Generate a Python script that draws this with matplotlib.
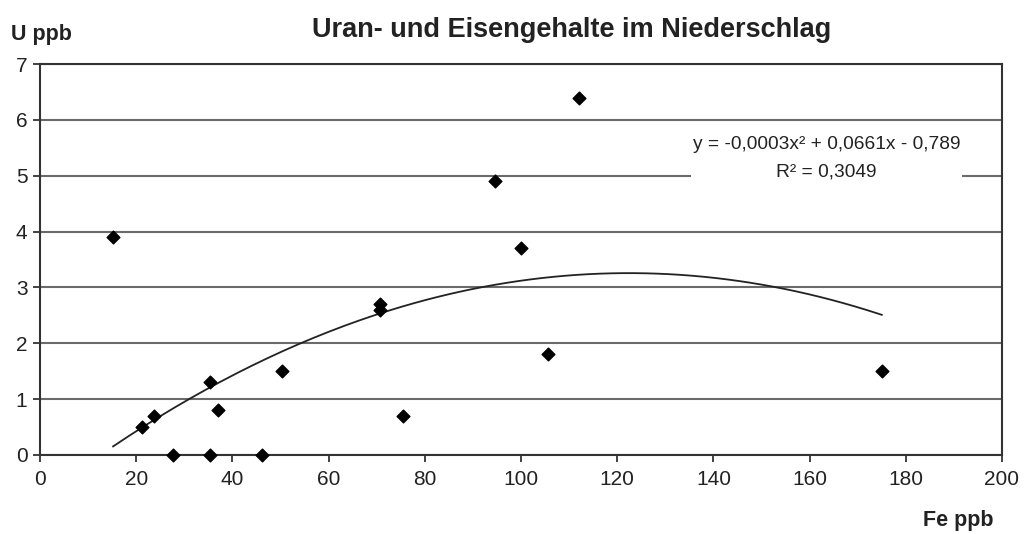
import numpy as np
import matplotlib
matplotlib.use("Agg")
import matplotlib.pyplot as plt

plt.rcParams['font.family'] = ['Liberation Sans', 'DejaVu Sans']

# Fe and U contents in precipitation (ppb)
fe_ppb = [15.2, 21.2, 23.7, 27.6, 35.3, 35.3, 37.0, 46.1, 50.3, 70.6, 70.6,
          75.4, 94.7, 99.9, 105.7, 112.0, 175.0]
u_ppb = [3.9, 0.5, 0.7, 0.0, 0.0, 1.3, 0.8, 0.0, 1.5, 2.7, 2.6,
         0.7, 4.9, 3.7, 1.8, 6.4, 1.5]

# polynomial trend (2nd order): a*x^2 + b*x + c
trend_coef = [-0.00027, 0.0661, -0.789]
r_squared = 0.3049

x_ticks = [0, 20, 40, 60, 80, 100, 120, 140, 160, 180, 200]
y_ticks = [0, 1, 2, 3, 4, 5, 6, 7]

def de(v, nd):
    return f"{v:.{nd}f}".replace(".", ",")

fig = plt.figure(figsize=(10.28, 5.34), dpi=100)
ax = fig.add_axes([0.0389, 0.148, 0.9358, 0.732])

ax.set_xlim(0, 200)
ax.set_ylim(0, 7)
ax.set_xticks(x_ticks)
ax.set_yticks(y_ticks)
ax.tick_params(axis='both', direction='out', length=5, width=1.2,
               labelsize=15, colors='#222222', pad=6)
ax.tick_params(axis='y', pad=4)
ax.yaxis.grid(True, color='#6a6a6a', linewidth=1.5)
ax.set_axisbelow(True)
for s in ax.spines.values():
    s.set_color('#333333')
    s.set_linewidth(1.5)

ax.scatter(fe_ppb, u_ppb, marker='D', s=42, color='black', zorder=3,
           clip_on=False)

xs = np.linspace(min(fe_ppb), max(fe_ppb), 200)
ax.plot(xs, np.polyval(trend_coef, xs), color='#222222', linewidth=1.3,
        zorder=2)

a, b, c = trend_coef
eq = (f"y = {de(a, 4)}x\u00b2 + {de(b, 4)}x - {de(-c, 3)}\n"
      f"R\u00b2 = {de(r_squared, 4)}")
ax.text(163.5, 5.31, eq, ha='center', va='center', fontsize=13.8,
        color='#222222', linespacing=1.85,
        bbox=dict(facecolor='white', edgecolor='none', pad=1), zorder=4)

fig.text(0.556, 0.944, "Uran- und Eisengehalte im Niederschlag",
         ha='center', va='center', fontsize=19.5, fontweight='bold',
         color='#222222')
fig.text(0.011, 0.936, "U ppb", ha='left', va='center', fontsize=15.5,
         fontweight='bold', color='#222222')
fig.text(0.932, 0.026, "Fe ppb", ha='center', va='center', fontsize=15.5,
         fontweight='bold', color='#222222')

fig.savefig("out.png", dpi=100)
